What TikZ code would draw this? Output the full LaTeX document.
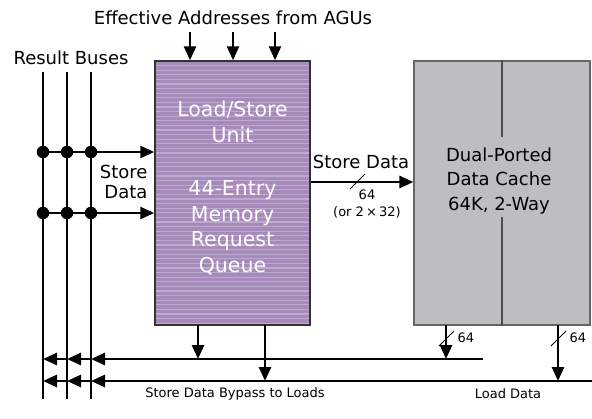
\documentclass[tikz,border=0pt]{standalone}
\usepackage{fontspec}
\setmainfont{DejaVu Sans}
\usetikzlibrary{arrows.meta}
\definecolor{lsupurple}{RGB}{166,138,186}
\definecolor{lsustripe}{RGB}{190,170,208}
\definecolor{cachegray}{RGB}{189,190,193}
\tikzset{
  bus/.style={line width=2.6pt},
  busarrow/.style={bus,-{Triangle[length=14pt,width=12pt]}},
  tap/.style={circle,fill=black,inner sep=0pt,minimum size=12.5pt},
  slash/.style={line width=0.9pt},
  lsubox/.style={draw=black!80,line width=1.5pt,fill=lsupurple,minimum width=155pt,minimum height=264pt,
    path picture={\foreach \i in {1,...,57}
      \draw[lsustripe,line width=1.3pt] ([yshift=-\i*4.6pt]path picture bounding box.north west) -- ([yshift=-\i*4.6pt]path picture bounding box.north east);}},
  cachebox/.style={draw=black!60,line width=1.2pt,fill=cachegray,minimum width=176pt,minimum height=264pt},
  divider/.style={black!70,line width=1.4pt},
  bigtext/.style={font=\fontsize{18}{20.5}\selectfont},
  smalltext/.style={font=\fontsize{13}{15}\selectfont},
  lsutext/.style={white,align=center,font=\fontsize{20.5}{25.5}\selectfont},
  cachetext/.style={align=center,font=\fontsize{18}{24.5}\selectfont}
}
\begin{document}
\begin{tikzpicture}[x=1pt,y=-1pt]
  \useasboundingbox (0,0) rectangle (592,418);

  % boxes
  \node[lsubox] (lsu) at (232.5,193) {};
  \node[cachebox] (cache) at (502,193) {};
  \node[lsutext] (lsutitle) at (232.5,122) {Load/Store\\Unit};
  \node[lsutext] (lsuqueue) at (232.5,228) {44-Entry\\Memory\\Request\\Queue};
  \node[cachetext] (cachetitle) at (499,181) {Dual-Ported\\Data Cache\\64K, 2-Way};

  % cache divider
  \coordinate (div1) at (502,137);
  \coordinate (div2) at (502,217);
  \draw[divider] (cache.north) -- (div1);
  \draw[divider] (div2) -- (cache.south);

  % top labels
  \node[bigtext] (agu) at (233,18) {Effective Addresses from AGUs};
  \node[bigtext] (rb) at (71,58) {Result Buses};

  % address inputs
  \coordinate (ea1) at (190,32);
  \coordinate (ea2) at (233,32);
  \coordinate (ea3) at (275,32);
  \draw[busarrow] (ea1) -- (ea1 |- lsu.north);
  \draw[busarrow] (ea2) -- (ea2 |- lsu.north);
  \draw[busarrow] (ea3) -- (ea3 |- lsu.north);

  % result buses
  \coordinate (rb1top) at (43,72);
  \coordinate (rb2top) at (67,72);
  \coordinate (rb3top) at (91,72);
  \coordinate (rb1bot) at (43,399);
  \coordinate (rb2bot) at (67,399);
  \coordinate (rb3bot) at (91,399);
  \draw[bus] (rb1top) -- (rb1bot);
  \draw[bus] (rb2top) -- (rb2bot);
  \draw[bus] (rb3top) -- (rb3bot);

  % store data taps
  \coordinate (tapa) at (37,152);
  \coordinate (tapb) at (37,213);
  \draw[busarrow] (tapa) -- (lsu.west |- tapa);
  \draw[busarrow] (tapb) -- (lsu.west |- tapb);
  \node[tap] (ta1) at (rb1top |- tapa) {};
  \node[tap] (ta2) at (rb2top |- tapa) {};
  \node[tap] (ta3) at (rb3top |- tapa) {};
  \node[tap] (tb1) at (rb1top |- tapb) {};
  \node[tap] (tb2) at (rb2top |- tapb) {};
  \node[tap] (tb3) at (rb3top |- tapb) {};
  \node[bigtext,align=right,anchor=east] (sdin) at (151,182) {Store\\Data};

  % store data to cache
  \coordinate (sd) at (lsu.east |- 0,182);
  \draw[busarrow] (sd) -- (sd -| cache.west);
  \node[bigtext] (sdlabel) at (361,162) {Store Data};
  \coordinate (sds1) at (350,189);
  \coordinate (sds2) at (365,174);
  \draw[slash] (sds1) -- (sds2);
  \node[smalltext] (sdw) at (367,195) {64};
  \node[smalltext] (sdalt) at (367,212) {(or 2\,×\,32)};

  % bypass and load buses
  \coordinate (bypass) at (483,359);
  \coordinate (load) at (592,381);
  \draw[busarrow] (bypass) -- (rb3top |- bypass);
  \draw[busarrow] (rb3top |- bypass) -- (rb2top |- bypass);
  \draw[busarrow] (rb2top |- bypass) -- (rb1top |- bypass);
  \draw[busarrow] (load) -- (rb3top |- load);
  \draw[busarrow] (rb3top |- load) -- (rb2top |- load);
  \draw[busarrow] (rb2top |- load) -- (rb1top |- load);
  \node[smalltext] (bplabel) at (235,394) {Store Data Bypass to Loads};
  \node[smalltext] (ldlabel) at (508,394) {Load Data};

  % queue outputs
  \coordinate (q1) at (198,325);
  \coordinate (q2) at (265,325);
  \draw[busarrow] (q1) -- (q1 |- bypass);
  \draw[busarrow] (q2) -- (q2 |- load);

  % cache outputs
  \coordinate (c1) at (446,325);
  \coordinate (c2) at (558,325);
  \draw[busarrow] (c1) -- (c1 |- bypass);
  \draw[busarrow] (c2) -- (c2 |- load);
  \draw[slash] (439,346) -- (454,331);
  \draw[slash] (551,346) -- (566,331);
  \node[smalltext,anchor=west] (c1w) at (454,338) {64};
  \node[smalltext,anchor=west] (c2w) at (566,338) {64};
\end{tikzpicture}
\end{document}
